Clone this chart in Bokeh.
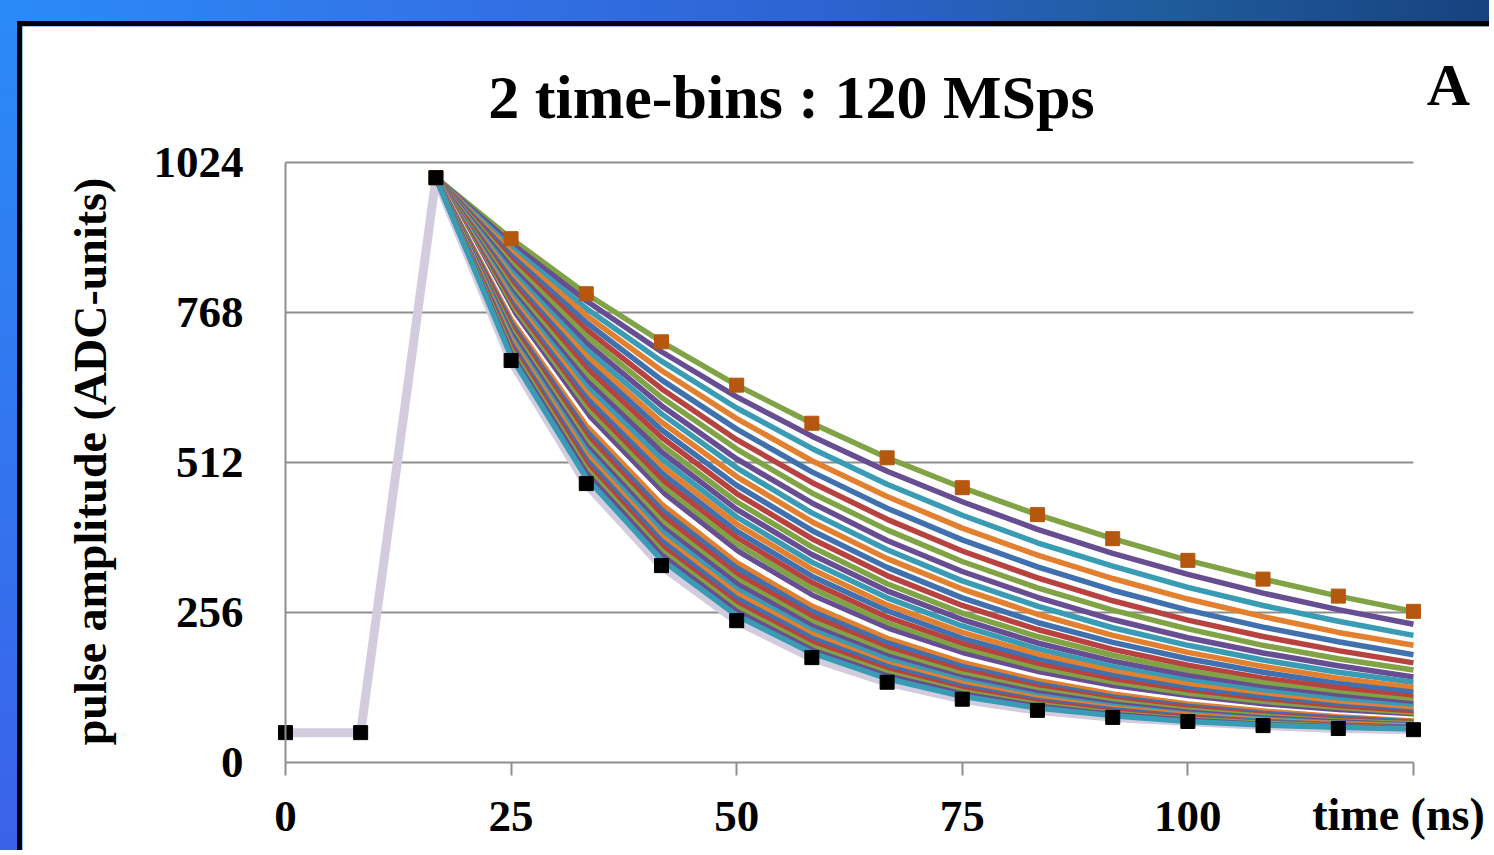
from bokeh.plotting import figure
from bokeh.models import Label, FixedTicker
from bokeh.layouts import column
from bokeh.embed import file_html
from bokeh.resources import INLINE

# ---------------- data ----------------
times = [0, 8.33, 16.67, 25, 33.33, 41.67, 50, 58.33, 66.67, 75, 83.33, 91.67, 100, 108.33, 116.67, 125]
decay_times = times[2:]

# slowest (top, orange markers) to fastest (bottom) decays, ADC-units
pulses = [
    [998, 894, 800, 718, 644, 579, 520, 469, 423, 382, 345, 313, 284, 258],
    [998, 886, 788, 701, 624, 557, 497, 445, 398, 357, 321, 289, 261, 236],
    [998, 879, 775, 685, 605, 536, 475, 422, 375, 335, 299, 268, 241, 217],
    [998, 872, 763, 669, 587, 515, 454, 400, 354, 314, 279, 249, 222, 200],
    [998, 865, 751, 653, 569, 496, 434, 380, 334, 294, 260, 231, 206, 184],
    [998, 858, 739, 638, 551, 478, 415, 361, 315, 276, 243, 215, 191, 170],
    [998, 852, 728, 623, 535, 460, 397, 343, 298, 260, 228, 200, 177, 158],
    [998, 845, 716, 609, 518, 443, 379, 326, 282, 244, 213, 187, 165, 146],
    [998, 838, 705, 595, 503, 426, 363, 310, 267, 230, 200, 175, 154, 137],
    [998, 831, 694, 581, 488, 411, 348, 296, 253, 217, 188, 164, 144, 128],
    [998, 825, 683, 568, 473, 396, 333, 281, 239, 205, 177, 154, 135, 120],
    [998, 818, 673, 555, 459, 382, 319, 268, 227, 193, 166, 144, 127, 112],
    [998, 812, 662, 542, 445, 368, 305, 255, 215, 183, 157, 136, 119, 106],
    [998, 805, 652, 530, 432, 355, 293, 244, 204, 173, 148, 128, 113, 100],
    [998, 799, 642, 518, 419, 342, 281, 233, 194, 164, 140, 122, 107, 95],
    [998, 793, 632, 506, 407, 330, 269, 222, 185, 156, 133, 115, 101, 90],
    [998, 786, 622, 494, 395, 318, 259, 212, 176, 148, 126, 110, 96, 86],
    [998, 780, 612, 483, 384, 307, 248, 203, 168, 141, 120, 104, 92, 83],
    [998, 774, 603, 472, 373, 297, 238, 194, 160, 134, 115, 100, 88, 79],
    [998, 768, 594, 462, 362, 286, 229, 186, 153, 128, 109, 95, 85, 76],
    [998, 762, 584, 451, 351, 276, 220, 178, 146, 122, 105, 91, 81, 74],
    [998, 756, 575, 441, 341, 267, 212, 171, 140, 117, 100, 88, 78, 71],
    [998, 750, 566, 431, 332, 258, 204, 164, 134, 112, 96, 84, 76, 69],
    [998, 744, 558, 422, 322, 250, 196, 157, 129, 108, 93, 81, 73, 67],
    [998, 738, 549, 412, 313, 241, 189, 151, 124, 104, 89, 79, 71, 66],
    [998, 732, 541, 403, 305, 233, 182, 145, 119, 100, 86, 76, 69, 64],
    [998, 726, 533, 395, 296, 226, 176, 140, 114, 96, 83, 74, 67, 63],
    [998, 721, 525, 386, 288, 219, 169, 135, 110, 93, 81, 72, 66, 62],
    [998, 715, 517, 378, 280, 212, 164, 130, 106, 90, 78, 70, 64, 60],
    [998, 709, 509, 369, 272, 205, 158, 125, 103, 87, 76, 68, 63, 59],
    [998, 704, 501, 361, 265, 198, 153, 121, 99, 84, 74, 67, 62, 58],
    [998, 698, 494, 354, 258, 192, 148, 117, 96, 82, 72, 65, 61, 58],
    [998, 693, 486, 346, 251, 187, 143, 113, 93, 80, 70, 64, 60, 57],
]

# fastest pulse (black markers), including the baseline before the peak
fast_pulse = [51, 51, 998, 686, 476, 336, 242, 179, 137, 108, 89, 77, 70, 63, 58, 56]

x_ticks = [0, 25, 50, 75, 100, 125]
y_ticks = [0, 256, 512, 768, 1024]
grid_levels = [256, 512, 768, 1024]

title_text = "2 time-bins : 120 MSps"
panel_letter = "A"
x_title = "time (ns)"
y_title = "pulse amplitude (ADC-units)"

# ---------------- styles ----------------
palette = ["#7FA345", "#674E92", "#3A9BB4", "#E3802F", "#4071AE", "#B8423F"]
white_series = 20
FONT = "Liberation Serif"
GRID = "#8e8e8e"

p = figure(width=1472, height=829, output_backend="svg", toolbar_location=None,
           x_range=(-29.145, 133.98), y_range=(-158.7, 1256.1),
           min_border_left=0, min_border_right=0, min_border_top=0, min_border_bottom=0)
p.outline_line_color = None
p.background_fill_color = "white"
p.border_fill_color = "white"
p.xgrid.visible = False
p.ygrid.visible = False

# horizontal gridlines between the first and last time tick
p.segment(x0=[x_ticks[0]] * len(grid_levels), x1=[x_ticks[-1]] * len(grid_levels),
          y0=grid_levels, y1=grid_levels, line_color=GRID, line_width=2)

# fastest pulse (lavender) underneath
p.line(times, fast_pulse, line_color="#D2CCDE", line_width=9, line_join="round")

for i, ys in enumerate(pulses):
    col = "white" if i == white_series else palette[i % len(palette)]
    p.line(decay_times, ys, line_color=col, line_width=5.5, line_join="round")

p.scatter(decay_times, pulses[0], marker="square", size=14, fill_color="#B5570F",
          line_color="#B5570F")
p.scatter(times, fast_pulse, marker="square", size=14, fill_color="black", line_color="black")

# axes, pinned at the origin
xa = p.xaxis[0]
xa.fixed_location = 0
xa.ticker = FixedTicker(ticks=x_ticks)
xa.major_label_overrides = {125: ""}
xa.bounds = (0, 125)
xa.axis_line_color = GRID
xa.axis_line_width = 2
xa.major_tick_line_color = GRID
xa.major_tick_line_width = 2
xa.major_tick_out = 13
xa.major_tick_in = 0
xa.minor_tick_line_color = None
xa.major_label_standoff = 26
xa.major_label_text_font = FONT
xa.major_label_text_font_style = "bold"
xa.major_label_text_font_size = "45px"
xa.major_label_text_color = "black"

ya = p.yaxis[0]
ya.fixed_location = 0
ya.ticker = FixedTicker(ticks=y_ticks)
ya.bounds = (0, 1024)
ya.axis_line_color = GRID
ya.axis_line_width = 2
ya.major_tick_line_color = None
ya.major_tick_out = 0
ya.major_tick_in = 0
ya.minor_tick_line_color = None
ya.major_label_standoff = 42
ya.major_label_text_font = FONT
ya.major_label_text_font_style = "bold"
ya.major_label_text_font_size = "45px"
ya.major_label_text_color = "black"

def lab(text, x, y, size, angle=0, align="center", baseline="alphabetic"):
    p.add_layout(Label(text=text, x=x, y=y,
                       text_font=FONT, text_font_style="bold", text_font_size=size,
                       text_color="black", text_align=align, text_baseline=baseline,
                       angle=angle))

lab(title_text, 56.07, 1135.0, "62px")
lab(panel_letter, 128.88, 1155.5, "60px")
lab(x_title, 123.34, -88.5, "46px")
lab(y_title, -21.6, 513.7, "46px", angle=1.5707963, baseline="middle")

layout = column(p, styles={
    "background": ("linear-gradient(180deg, #2a8bf6 0%, #3a62e8 100%) 0 0 / 17px 100% no-repeat, "
                   "linear-gradient(90deg, #2a8bf6 0%, #3273e8 30%, #2d63d2 55%, #1f5c9c 78%, #17427f 100%)"),
    "padding": "21px 0px 0px 17px",
})
p.styles = {"border-top": "5px solid black", "border-left": "5px solid black"}

open("out.html", "w").write(file_html(layout, INLINE))
